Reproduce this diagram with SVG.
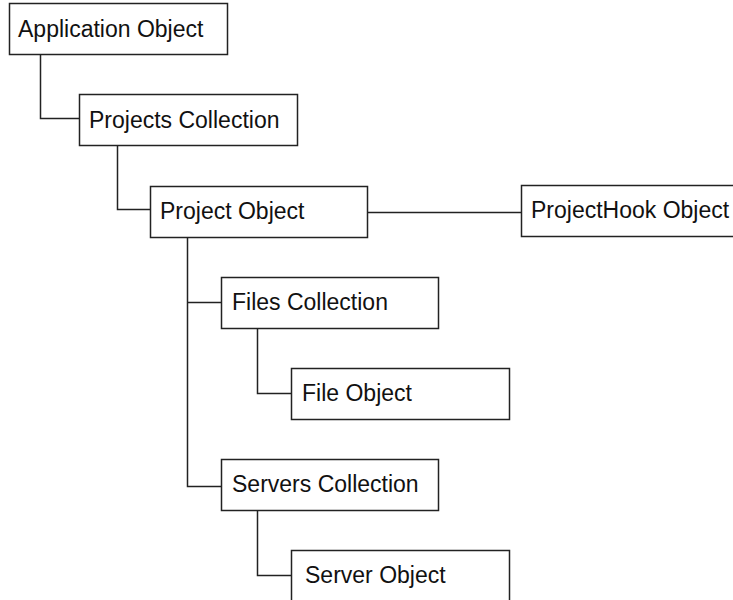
<svg xmlns="http://www.w3.org/2000/svg" width="733" height="600" viewBox="0 0 733 600">
<style>
.box{fill:#fff;stroke:#222;stroke-width:1.5}
.lbl{font-family:"Liberation Sans",Arial,sans-serif;font-size:23px;fill:#111}
.conn path{fill:none;stroke:#222;stroke-width:1.5}
</style>
<rect width="733" height="600" fill="#fff"/>
<g id="connectors" class="conn">
<path d="M40.5 54.5 V118.5 H79.5"/>
<path d="M117.5 145.5 V209.5 H150.5"/>
<path d="M367.5 212.5 H521.5"/>
<path d="M187.5 237.5 V486.5 H221.5"/>
<path d="M187.5 302.5 H221.5"/>
<path d="M257.5 328.5 V393.5 H291.5"/>
<path d="M257.5 510.5 V575.5 H291.5"/>
</g>
<g id="application">
<rect class="box" x="9.5" y="3.5" width="218" height="51"/>
<text class="lbl" x="18" y="37">Application Object</text>
</g>
<g id="projects">
<rect class="box" x="79.5" y="94.5" width="218" height="51"/>
<text class="lbl" x="89" y="128">Projects Collection</text>
</g>
<g id="project">
<rect class="box" x="150.5" y="186.5" width="217" height="51"/>
<text class="lbl" x="160" y="219">Project Object</text>
</g>
<g id="projecthook">
<rect class="box" x="521.5" y="185.5" width="218" height="51"/>
<text class="lbl" x="531" y="218">ProjectHook Object</text>
</g>
<g id="files">
<rect class="box" x="221.5" y="277.5" width="217" height="51"/>
<text class="lbl" x="232" y="310">Files Collection</text>
</g>
<g id="file">
<rect class="box" x="291.5" y="368.5" width="218" height="51"/>
<text class="lbl" x="302" y="401">File Object</text>
</g>
<g id="servers">
<rect class="box" x="221.5" y="459.5" width="217" height="51"/>
<text class="lbl" x="232" y="492">Servers Collection</text>
</g>
<g id="server">
<rect class="box" x="291.5" y="550.5" width="218" height="51"/>
<text class="lbl" x="305" y="583">Server Object</text>
</g>
</svg>
